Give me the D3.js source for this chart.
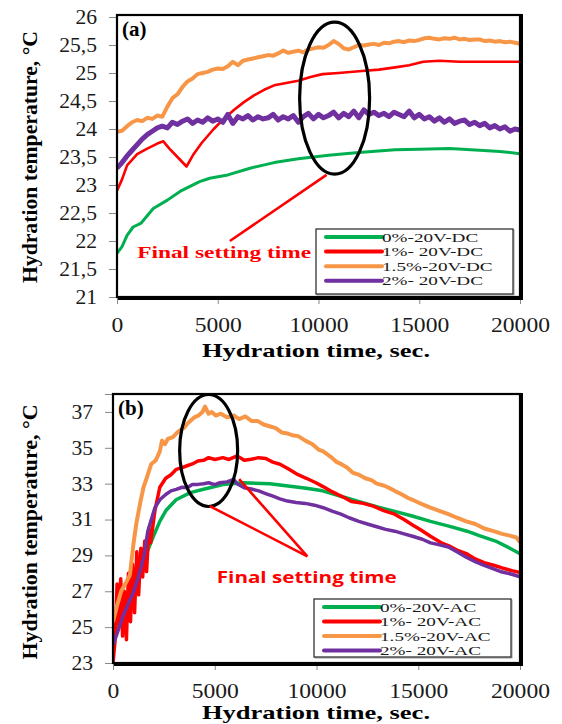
<!DOCTYPE html>
<html><head><meta charset="utf-8">
<script src="https://cdn.jsdelivr.net/npm/d3@7"></script>
<style>
body{margin:0;background:#fff;}
svg{display:block;}
</style></head>
<body>
<svg id="c" width="562" height="724"></svg>
<script>
// ---------- DATA ----------
const xTicks = [0, 5000, 10000, 15000, 20000];
const yTicksA = [21, 21.5, 22, 22.5, 23, 23.5, 24, 24.5, 25, 25.5, 26];
const yTicksB = [23, 25, 27, 29, 31, 33, 35, 37];
const seriesNamesA = ["0%-20V-DC", "1%- 20V-DC", "1.5%-20V-DC", "2%- 20V-DC"];
const seriesNamesB = ["0%-20V-AC", "1%- 20V-AC", "1.5%-20V-AC", "2%- 20V-AC"];
const seriesColors = ["#00b050", "#ff0000", "#f79646", "#7030a0"];

const greenDC = [[0,21.78],[250,21.9],[500,22.1],[800,22.25],[1200,22.32],[1800,22.58],[2500,22.73],[3200,22.9],[4100,23.06],[4600,23.12],[5500,23.18],[6600,23.3],[7800,23.4],[9000,23.47],[10500,23.53],[12000,23.58],[13800,23.63],[15000,23.64],[16500,23.65],[18000,23.62],[19000,23.6],[20000,23.56]];
const redDC = [[0,22.9],[250,23.1],[500,23.35],[1000,23.55],[1500,23.65],[2000,23.74],[2300,23.78],[2600,23.65],[3000,23.5],[3450,23.33],[3800,23.55],[4200,23.75],[4800,24.0],[5300,24.18],[5800,24.34],[6300,24.48],[6800,24.6],[7300,24.7],[7800,24.78],[8400,24.82],[9000,24.86],[9600,24.93],[10200,24.98],[11000,25.0],[12000,25.03],[13000,25.06],[13800,25.1],[14500,25.14],[15200,25.2],[16000,25.22],[17000,25.2],[18000,25.2],[19000,25.2],[20000,25.2]];
const orangeDC = [[0,23.95],[250,23.97],[500,24.05],[750,24.12],[1000,24.16],[1250,24.14],[1500,24.2],[1750,24.18],[2000,24.24],[2250,24.22],[2500,24.4],[2750,24.55],[3000,24.62],[3250,24.75],[3500,24.85],[3750,24.9],[4000,24.98],[4250,25.0],[4500,25.02],[4750,25.06],[5000,25.08],[5250,25.07],[5500,25.12],[5750,25.2],[6000,25.14],[6250,25.22],[6500,25.24],[6750,25.26],[7000,25.28],[7250,25.3],[7500,25.32],[7750,25.31],[8000,25.35],[8250,25.4],[8500,25.36],[8750,25.38],[9000,25.4],[9250,25.37],[9500,25.42],[9750,25.44],[10000,25.46],[10250,25.45],[10500,25.5],[10750,25.57],[11000,25.52],[11250,25.44],[11500,25.42],[11750,25.46],[12000,25.5],[12250,25.49],[12500,25.51],[12750,25.52],[13000,25.5],[13250,25.54],[13500,25.53],[13750,25.56],[14000,25.57],[14250,25.55],[14500,25.58],[14750,25.57],[15000,25.59],[15250,25.62],[15500,25.63],[15750,25.61],[16000,25.6],[16250,25.62],[16500,25.61],[16750,25.63],[17000,25.6],[17250,25.61],[17500,25.59],[17750,25.6],[18000,25.6],[18250,25.57],[18500,25.58],[18750,25.56],[19000,25.57],[19250,25.55],[19500,25.56],[19750,25.54],[20000,25.52]];
const purpleDC = [[0,23.3],[250,23.4],[500,23.52],[750,23.62],[1000,23.72],[1250,23.82],[1500,23.9],[1750,23.96],[2000,24.02],[2250,24.05],[2500,24.02],[2750,24.12],[3000,24.08],[3250,24.14],[3500,24.18],[3750,24.1],[4000,24.16],[4250,24.12],[4500,24.2],[4750,24.14],[5000,24.18],[5250,24.12],[5500,24.26],[5750,24.1],[6000,24.22],[6250,24.18],[6500,24.24],[6750,24.16],[7000,24.22],[7250,24.18],[7500,24.2],[7750,24.26],[8000,24.16],[8250,24.22],[8500,24.18],[8750,24.24],[9000,24.12],[9250,24.22],[9500,24.28],[9750,24.18],[10000,24.26],[10250,24.2],[10500,24.24],[10750,24.3],[11000,24.2],[11250,24.28],[11500,24.22],[11750,24.32],[12000,24.2],[12250,24.34],[12500,24.26],[12750,24.3],[13000,24.24],[13250,24.28],[13500,24.22],[13750,24.3],[14000,24.26],[14250,24.22],[14500,24.32],[14750,24.2],[15000,24.26],[15250,24.18],[15500,24.22],[15750,24.14],[16000,24.2],[16250,24.12],[16500,24.18],[16750,24.1],[17000,24.14],[17250,24.16],[17500,24.08],[17750,24.12],[18000,24.06],[18250,24.1],[18500,24.02],[18750,24.06],[19000,24.0],[19250,24.04],[19500,23.96],[19750,24.0],[20000,23.98]];

const greenAC = [[0,24.4],[250,25.0],[500,25.6],[750,26.3],[1000,27.0],[1250,27.8],[1500,28.7],[1750,29.4],[2000,30.1],[2300,30.9],[2600,31.5],[3100,32.1],[3800,32.5],[4500,32.7],[5400,32.95],[6400,33.05],[7700,33.0],[8600,32.87],[9500,32.74],[10300,32.6],[11200,32.3],[12100,32.0],[13000,31.7],[13800,31.47],[14700,31.2],[15600,30.9],[16500,30.63],[17400,30.35],[18000,30.1],[18800,29.8],[19500,29.4],[20000,29.1]];
const redAC = [[0,23.0],[120,24.5],[200,27.4],[280,25.2],[380,27.7],[470,24.5],[560,27.0],[660,24.3],[760,28.0],[860,25.3],[960,28.5],[1060,25.8],[1170,29.2],[1260,26.8],[1370,29.4],[1460,27.8],[1560,29.8],[1650,28.1],[1760,30.5],[1850,29.7],[2060,31.5],[2300,32.8],[2590,33.3],[2850,33.5],[3110,33.8],[3400,33.9],[3640,34.0],[3900,34.1],[4170,34.26],[4450,34.3],[4700,34.45],[5000,34.35],[5400,34.45],[5700,34.35],[6100,34.55],[6450,34.3],[6800,34.36],[7150,34.45],[7510,34.4],[7850,34.2],[8210,34.08],[8650,33.8],[9090,33.5],[9500,33.3],[9970,33.05],[10300,32.85],[10680,32.6],[11030,32.4],[11400,32.2],[11730,32.0],[12300,31.9],[12790,31.75],[13300,31.5],[13840,31.3],[14300,31.0],[14720,30.7],[15150,30.4],[15600,30.07],[16130,29.7],[16480,29.55],[16900,29.3],[17360,29.1],[17800,28.8],[18240,28.6],[18700,28.45],[19120,28.3],[19600,28.15],[20000,28.05]];
const orangeAC = [[0,25.3],[200,26.2],[400,27.0],[600,27.4],[830,27.9],[1000,29.6],[1150,30.8],[1350,32.0],[1500,32.8],[1650,33.3],[1880,34.1],[2100,34.3],[2300,34.8],[2410,35.4],[2550,35.2],[2700,35.5],[2940,35.6],[3200,35.9],[3470,36.1],[3700,36.4],[4000,36.7],[4200,36.8],[4400,37.0],[4520,37.3],[4700,36.9],[4850,37.0],[5050,36.8],[5300,36.9],[5600,36.7],[5930,36.8],[6200,36.6],[6500,36.75],[6800,36.5],[7100,36.5],[7400,36.3],[7690,36.2],[8000,36.1],[8300,35.85],[8570,35.8],[8800,35.7],[9100,35.65],[9450,35.4],[9800,35.2],[10100,34.9],[10330,34.8],[10700,34.5],[11000,34.2],[11200,34.1],[11500,33.9],[11800,33.6],[12080,33.5],[12400,33.3],[12700,33.2],[12960,33.0],[13300,32.9],[13600,32.75],[13840,32.6],[14200,32.4],[14500,32.2],[14720,32.1],[15000,31.95],[15300,31.8],[15600,31.66],[16000,31.5],[16480,31.3],[16900,31.1],[17360,30.9],[17800,30.75],[18240,30.5],[18700,30.35],[19120,30.2],[19500,30.1],[19820,30.0],[20000,29.75]];
const purpleAC = [[0,24.0],[250,24.8],[500,25.65],[750,26.3],[1000,26.95],[1250,27.8],[1530,29.0],[1710,30.35],[2060,31.66],[2300,32.1],[2590,32.4],[2850,32.6],[3110,32.68],[3400,32.8],[3640,32.77],[3900,32.95],[4170,32.96],[4450,33.0],[4700,33.05],[5000,32.95],[5230,33.05],[5600,33.1],[5930,33.24],[6100,33.0],[6450,32.77],[6800,32.7],[7160,32.6],[7500,32.45],[7860,32.3],[8200,32.15],[8570,32.03],[9000,31.95],[9450,31.9],[9900,31.8],[10330,31.66],[10800,31.45],[11200,31.3],[11600,31.1],[12080,30.9],[12500,30.75],[12960,30.6],[13400,30.45],[13840,30.35],[14300,30.2],[14720,30.07],[15200,29.9],[15600,29.7],[16000,29.6],[16480,29.47],[16900,29.2],[17360,28.9],[17800,28.65],[18240,28.44],[18700,28.25],[19120,28.07],[19600,27.95],[20000,27.8]];

const yTitle = "Hydration temperature, \u00B0C";
const xTitle = "Hydration time, sec.";
const annoText = "Final setting time";

// ---------- DRAW ----------
const svg = d3.select("#c");
const serif = "'Liberation Serif','Times New Roman',serif";

function stretch(sel, k){
  sel.each(function(){
    const w = this.getComputedTextLength();
    d3.select(this).attr("textLength", w*k).attr("lengthAdjust","spacingAndGlyphs");
  });
}

function panel(cfg){
  const g = svg.append("g");
  const x = d3.scaleLinear().domain([0,20000]).range([cfg.left, cfg.right]);
  const y = d3.scaleLinear().domain(cfg.yDomain).range([cfg.bottom, cfg.top]);

  // axes
  const ya = g.append("g").attr("transform",`translate(${cfg.left},0)`)
    .call(d3.axisLeft(y).tickValues(cfg.yTicks).tickSize(8).tickPadding(12)
      .tickFormat(d=>String(d).replace(".",",")));
  const xa = g.append("g").attr("transform",`translate(0,${cfg.bottom})`)
    .call(d3.axisBottom(x).tickValues(xTicks).tickSize(7).tickPadding(9).tickFormat(d3.format("d")));
  [ya,xa].forEach(a=>{
    a.select(".domain").attr("stroke","#888");
    a.selectAll(".tick line").attr("stroke","#888");
    a.selectAll("text").attr("font-family",serif).attr("font-size",20).attr("fill","#1a1a1a");
  });
  xa.selectAll("text").attr("dy","0.95em");
  stretch(xa.selectAll("text"), 1.18);
  stretch(ya.selectAll("text"), 1.08);

  // clip
  const cid = "clip"+cfg.id;
  svg.append("clipPath").attr("id",cid).append("rect")
    .attr("x",cfg.left).attr("y",cfg.frameTop).attr("width",cfg.right-cfg.left).attr("height",cfg.bottom-cfg.frameTop);

  const line = d3.line().x(d=>x(d[0])).y(d=>y(d[1]));
  const lg = g.append("g").attr("clip-path",`url(#${cid})`);
  cfg.series.forEach((s,i)=>{
    lg.append("path").datum(s).attr("d",line).attr("fill","none")
      .attr("stroke",seriesColors[i]).attr("stroke-width",cfg.widths[i])
      .attr("stroke-linejoin","round");
  });

  // frame
  g.append("rect").attr("x",cfg.left).attr("y",cfg.frameTop)
    .attr("width",cfg.right-cfg.left).attr("height",cfg.bottom-cfg.frameTop)
    .attr("fill","none").attr("stroke","#000").attr("stroke-width",2.2);
  g.append("path").attr("d",`M${cfg.right+1},${cfg.frameTop-1}V${cfg.bottom+1}H${cfg.left+1}`)
    .attr("fill","none").attr("stroke","#000").attr("stroke-width",4);

  // panel letter
  g.append("text").attr("x",cfg.left+5).attr("y",cfg.frameTop+21).text(cfg.letter)
    .attr("font-family",serif).attr("font-weight","bold").attr("font-size",21);

  // annotations
  const ell = cfg.ellipse;
  g.append("ellipse").attr("cx",x(ell[0])).attr("cy",y(ell[1])).attr("rx",ell[2]).attr("ry",ell[3])
    .attr("fill","none").attr("stroke","#000").attr("stroke-width",3.2);
  cfg.arrows.forEach(a=>{
    g.append("line").attr("x1",x(a[0])).attr("y1",y(a[1])).attr("x2",x(a[2])).attr("y2",y(a[3]))
      .attr("stroke","#ff0000").attr("stroke-width",2.6);
  });
  g.append("text").attr("x",x(cfg.anno[0])).attr("y",y(cfg.anno[1])).text(annoText)
    .attr("font-family",cfg.annoFont).attr("font-weight","bold").attr("font-size",cfg.annoSize)
    .attr("fill","#ff0000").attr("textLength",cfg.annoLen).attr("lengthAdjust","spacingAndGlyphs");

  // legend
  const L = cfg.legend;
  g.append("rect").attr("x",L.x+1).attr("y",L.y+1).attr("width",L.w).attr("height",L.h)
    .attr("fill","none").attr("stroke","#999").attr("stroke-width",1);
  g.append("rect").attr("x",L.x).attr("y",L.y).attr("width",L.w).attr("height",L.h)
    .attr("fill","#fff").attr("stroke","#222").attr("stroke-width",1.2);
  cfg.names.forEach((n,i)=>{
    const yy = L.y + 8 + i*L.step;
    g.append("line").attr("x1",L.x+10).attr("x2",L.x+66).attr("y1",yy).attr("y2",yy)
      .attr("stroke",seriesColors[i]).attr("stroke-width",4).attr("stroke-linecap","round");
    const t = g.append("text").attr("x",L.x+66).attr("y",yy+4.5).text(n)
      .attr("font-family",serif).attr("font-size",13.5).attr("fill","#1a1a1a");
    stretch(t, 1.42);
  });

  // titles
  g.append("text").attr("transform",`translate(${cfg.yTitleX},${cfg.yTitleY}) rotate(-90)`)
    .attr("text-anchor","middle").text(yTitle)
    .attr("font-family",serif).attr("font-weight","bold").attr("font-size",20)
    .attr("textLength",cfg.yTitleLen).attr("lengthAdjust","spacingAndGlyphs");
  g.append("text").attr("x",cfg.xTitleX).attr("y",cfg.xTitleY)
    .attr("text-anchor","middle").text(xTitle)
    .attr("font-family",serif).attr("font-weight","bold").attr("font-size",19)
    .attr("textLength",228).attr("lengthAdjust","spacingAndGlyphs");
}

panel({
  id:"a", letter:"(a)", left:117, right:520, top:17, bottom:297, frameTop:15,
  yDomain:[21,26], yTicks:yTicksA,
  series:[greenDC, redDC, orangeDC, purpleDC], widths:[3,2.6,4,5],
  names:seriesNamesA,
  ellipse:[10800, 24.55, 35, 76],
  arrows:[[5600, 22.0, 10400, 23.18]],
  anno:[1000, 21.69], annoFont:serif, annoSize:17, annoLen:174,
  legend:{x:316, y:229, w:197, h:65, step:14.6},
  yTitleX:37, yTitleY:157, yTitleLen:252,
  xTitleX:316, xTitleY:357
});

panel({
  id:"b", letter:"(b)", left:113, right:520, top:394, bottom:663, frameTop:394,
  yDomain:[23,38], yTicks:yTicksB,
  series:[greenAC, redAC, orangeAC, purpleAC], widths:[3.5,3.5,4,3.5],
  names:seriesNamesB,
  ellipse:[4700, 34.85, 29, 56],
  arrows:[[4750, 31.75, 9550, 28.95],[6200, 33.25, 9550, 28.95]],
  anno:[5100, 27.45], annoFont:"'Open Sans','DejaVu Sans',sans-serif", annoSize:16, annoLen:180,
  legend:{x:314, y:599, w:197, h:58, step:14.5},
  yTitleX:37, yTitleY:532, yTitleLen:255,
  xTitleX:316, xTitleY:719
});
</script>
</body></html>
